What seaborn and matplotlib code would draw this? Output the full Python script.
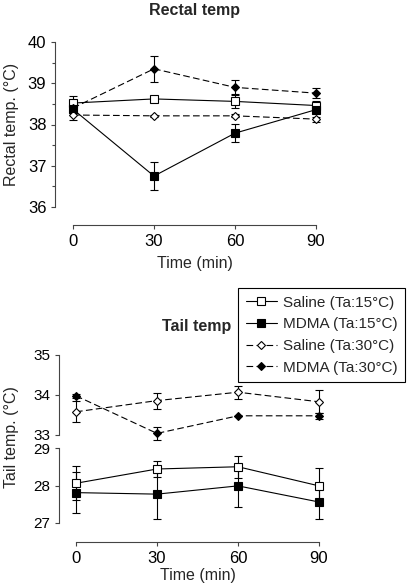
import pandas as pd
import seaborn as sns
import matplotlib.pyplot as plt
from matplotlib.ticker import MultipleLocator

# data (mean +/- sem)
time = [0, 30, 60, 90]
groups = ["Saline (Ta:15°C)", "MDMA (Ta:15°C)", "Saline (Ta:30°C)", "MDMA (Ta:30°C)"]

rectal_mean = {
    "Saline (Ta:15°C)": [38.52, 38.62, 38.56, 38.46],
    "MDMA (Ta:15°C)": [38.37, 36.75, 37.79, 38.36],
    "Saline (Ta:30°C)": [38.23, 38.21, 38.21, 38.13],
    "MDMA (Ta:30°C)": [38.40, 39.35, 38.90, 38.76],
}
rectal_sem = {
    "Saline (Ta:15°C)": [0.18, 0.05, 0.16, 0.10],
    "MDMA (Ta:15°C)": [0.08, 0.33, 0.22, 0.08],
    "Saline (Ta:30°C)": [0.12, 0.03, 0.04, 0.06],
    "MDMA (Ta:30°C)": [0.06, 0.32, 0.17, 0.12],
}
tail_mean = {
    "Saline (Ta:15°C)": [28.06, 28.44, 28.50, 27.99],
    "MDMA (Ta:15°C)": [27.81, 27.77, 27.99, 27.56],
    "Saline (Ta:30°C)": [33.58, 33.86, 34.07, 33.83],
    "MDMA (Ta:30°C)": [33.98, 33.04, 33.48, 33.48],
}
tail_sem = {
    "Saline (Ta:15°C)": [0.45, 0.21, 0.29, 0.48],
    "MDMA (Ta:15°C)": [0.54, 0.65, 0.56, 0.44],
    "Saline (Ta:30°C)": [0.26, 0.20, 0.16, 0.29],
    "MDMA (Ta:30°C)": [0.05, 0.17, 0.0, 0.07],
}

style = {
    "Saline (Ta:15°C)": dict(marker="s", mfc="white", ms=6.4, ls="-"),
    "MDMA (Ta:15°C)": dict(marker="s", mfc="black", ms=6.0, ls="-"),
    "Saline (Ta:30°C)": dict(marker="D", mfc="white", ms=4.5, ls=(0, (6, 3))),
    "MDMA (Ta:30°C)": dict(marker="D", mfc="black", ms=4.5, ls=(0, (6, 3))),
}

sns.set_style("ticks")
plt.rcParams["font.family"] = ["Liberation Sans", "DejaVu Sans"]
plt.rcParams["font.size"] = 11
plt.rcParams["axes.edgecolor"] = "#444444"
plt.rcParams["xtick.color"] = "#444444"
plt.rcParams["ytick.color"] = "#444444"
plt.rcParams["xtick.labelcolor"] = "black"
plt.rcParams["ytick.labelcolor"] = "black"

W, H = 408, 588
fig = plt.figure(figsize=(W / 100, H / 100), dpi=100)


def box(x0, x1, y0, y1):
    return [x0 / W, 1 - y1 / H, (x1 - x0) / W, (y1 - y0) / H]


def draw(ax, g, mean, sem):
    st = style[g]
    df = pd.DataFrame({"time": time, "temp": mean[g]})
    sns.lineplot(data=df, x="time", y="temp", ax=ax, color="black", lw=0.8,
                 linestyle=st["ls"], marker=st["marker"], markersize=st["ms"],
                 markerfacecolor=st["mfc"], markeredgecolor="black",
                 markeredgewidth=0.8, label=g, legend=False, zorder=3)
    eb = ax.errorbar(time, mean[g], yerr=sem[g], fmt="none", ecolor="black",
                     elinewidth=0.8, capsize=3.2, capthick=0.8, zorder=2)
    for art in eb.get_children():
        art.set_clip_on(False)


def style_ax(ax, ylim, left_off, bottom_off=None, xlabelpad=2, ysize=12):
    ax.set_xlim(0, 90)
    ax.set_ylim(*ylim)
    ax.set_xlabel("")
    ax.set_ylabel("")
    for s in ["top", "right"]:
        ax.spines[s].set_visible(False)
    ax.spines["left"].set_position(("outward", left_off))
    ax.spines["left"].set_linewidth(0.8)
    ax.tick_params(axis="y", length=3, width=0.8, pad=3.2, labelsize=ysize)
    if bottom_off is None:
        ax.spines["bottom"].set_visible(False)
        ax.set_xticks([])
    else:
        ax.spines["bottom"].set_position(("outward", bottom_off))
        ax.spines["bottom"].set_linewidth(0.8)
        ax.set_xticks(time)
        ax.tick_params(axis="x", length=3, width=0.8, pad=3.5, labelsize=12)
        ax.set_xlabel("Time (min)", fontsize=11.5, labelpad=xlabelpad)
    for ln in ax.lines:
        ln.set_clip_on(False)


# Rectal temp
ax_top = fig.add_axes(box(73, 316, 42, 207))
for g in groups:
    draw(ax_top, g, rectal_mean, rectal_sem)
style_ax(ax_top, (36, 40), 13, 13, xlabelpad=5)
ax_top.set_yticks([36, 37, 38, 39, 40])
ax_top.yaxis.set_minor_locator(MultipleLocator(0.5))
ax_top.tick_params(axis="y", which="minor", length=2.2, width=0.8)

# Tail temp (broken y axis)
ax_hi = fig.add_axes(box(76, 319, 355, 435))
ax_lo = fig.add_axes(box(76, 319, 448, 523))
for g in groups[2:]:
    draw(ax_hi, g, tail_mean, tail_sem)
for g in groups[:2]:
    draw(ax_lo, g, tail_mean, tail_sem)
style_ax(ax_hi, (33, 35), 12.2, ysize=11)
style_ax(ax_lo, (27, 29), 12.2, 13.7, xlabelpad=1.5, ysize=11)
ax_hi.set_yticks([33, 34, 35])
ax_lo.set_yticks([27, 28, 29])

fig.text(194.5 / W, 1 - 11 / H, "Rectal temp", ha="center", va="center",
         fontsize=11.5, fontweight="bold")
fig.text(197 / W, 1 - 327 / H, "Tail temp", ha="center", va="center",
         fontsize=11.5, fontweight="bold")
fig.text(12 / W, 1 - 124.5 / H, "Rectal temp. (°C)", rotation=90,
         ha="center", va="center", fontsize=11.5)
fig.text(12 / W, 1 - 437 / H, "Tail temp. (°C)", rotation=90,
         ha="center", va="center", fontsize=11.5)

h_lo, l_lo = ax_lo.get_legend_handles_labels()
h_hi, l_hi = ax_hi.get_legend_handles_labels()
leg = fig.legend(h_lo + h_hi, l_lo + l_hi, loc="upper right",
                 bbox_to_anchor=(405 / W, 1 - 288 / H), frameon=True,
                 fancybox=False, edgecolor="black", framealpha=1,
                 borderaxespad=0, fontsize=11, handlelength=2.0,
                 handletextpad=0.4, labelspacing=0.5, borderpad=0.5)
leg.get_frame().set_linewidth(0.8)

fig.savefig("out.png", dpi=100)
